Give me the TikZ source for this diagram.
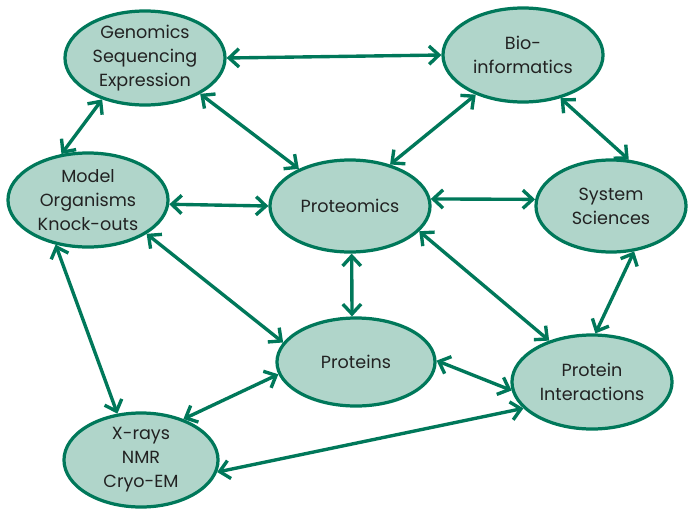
\documentclass[tikz,border=0pt]{standalone}
\usepackage{fontspec}
\setmainfont{Poppins}
\usetikzlibrary{shapes.geometric,arrows.meta}
\definecolor{omicsgreen}{HTML}{00785A}
\definecolor{omicsfill}{HTML}{B0D5CA}
\definecolor{omicstext}{HTML}{222222}

\tikzset{
  topic/.style={ellipse, draw=omicsgreen, fill=omicsfill, line width=2.3pt,
    inner sep=0pt, minimum width=4cm, minimum height=2.35cm, align=center,
    text=omicstext, font=\fontsize{12.5}{17}\selectfont},
  link/.style={<->, draw=omicsgreen, line width=2.4pt,
    >={Straight Barb[length=7pt,width=13pt,line width=2.4pt]}}
}

\begin{document}
\begin{tikzpicture}[x=0.025cm, y=-0.025cm]
    \useasboundingbox (0,0) rectangle (688,513);
    \node[topic] (gen) at (145,58) {Genomics\\Sequencing\\Expression};
    \node[topic] (bio) at (523,55) {Bio-\\informatics};
    \node[topic] (mod) at (88,200) {Model\\Organisms\\Knock-outs};
    \node[topic, minimum height=2.3cm] (ptm) at (350,206) {Proteomics};
    \node[topic, minimum width=3.75cm, minimum height=2.3cm] (sys) at (611,206) {System\\Sciences};
    \node[topic, minimum width=3.95cm, minimum height=2.2cm] (prt) at (356,362) {Proteins};
    \node[topic] (int) at (592,382) {Protein\\Interactions};
    \node[topic, minimum width=3.85cm] (xry) at (141,460) {X-rays\\NMR\\Cryo-EM};
    \draw[link] (gen.east) -- (bio.west);
    \draw[link] (gen.224) -- (mod.120);
    \draw[link] (gen.327) -- (ptm.144);
    \draw[link] (bio.220) -- (ptm.46);
    \draw[link] (bio.311) -- (sys.69);
    \draw[link] (mod.-3) -- (ptm.180);
    \draw[link] (mod.330) -- (prt.165);
    \draw[link] (mod.234) -- (xry.117);
    \draw[link] (ptm.5) -- (sys.175);
    \draw[link] (ptm.-88) -- (prt.95);
    \draw[link] (ptm.340) -- (int.136);
    \draw[link] (sys.297) -- (int.86);
    \draw[link] (prt.1) -- (int.186);
    \draw[link] (prt.189) -- (xry.44);
    \draw[link] (xry.351) -- (int.201);
  \end{tikzpicture}
\end{document}
